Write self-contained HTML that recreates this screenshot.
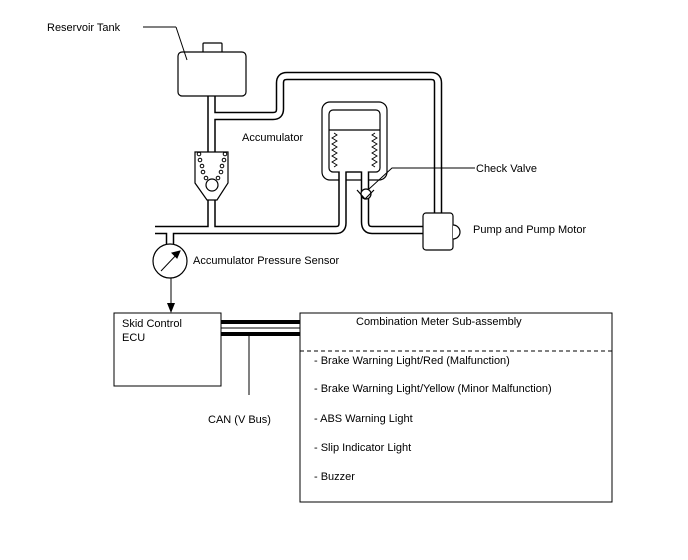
<!DOCTYPE html>
<html><head><style>
html,body{margin:0;padding:0;background:#fff;}
svg{display:block;}
text{font-family:"Liberation Sans",Arial,sans-serif;font-size:11px;fill:#000;}
</style></head><body>
<svg width="688" height="560" viewBox="0 0 688 560" xmlns="http://www.w3.org/2000/svg">
<!-- accumulator first -->
<g stroke="#000" stroke-width="1.2" fill="#fff">
<rect x="322" y="102" width="65" height="78" rx="8"/>
<rect x="329" y="110" width="51" height="62" rx="4"/>
<line x1="329" y1="130" x2="380" y2="130"/>
<path d="M334 133 l3 2 l-5 3 l5 3 l-5 3 l5 3 l-5 3 l5 3 l-5 3 l5 3 l-5 3 l5 3 l-3 2" fill="none" stroke-width="0.9"/>
<path d="M375 133 l-3 2 l5 3 l-5 3 l5 3 l-5 3 l5 3 l-5 3 l5 3 l-5 3 l5 3 l-5 3 l3 2" fill="none" stroke-width="0.9"/>
</g>
<g fill="none" stroke-linejoin="round">
<g stroke="#000" stroke-width="8.5">
<path d="M211.5 95 V230"/>
<path d="M211.5 116 H273 Q280 116 280 109 V83 Q280 76 287 76 H431 Q438 76 438 83 V214"/>
<path d="M155 230 H336 Q342.5 230 342.5 223 V172.5"/>
<path d="M365 172.5 V222 Q365 230 372 230 H424"/>
<path d="M170 230 V245"/>
</g>
<g stroke="#fff" stroke-width="5.5">
<path d="M211.5 95 V230"/>
<path d="M211.5 116 H273 Q280 116 280 109 V83 Q280 76 287 76 H431 Q438 76 438 83 V216"/>
<path d="M152 230 H336 Q342.5 230 342.5 223 V171"/>
<path d="M365 171 V222 Q365 230 372 230 H425"/>
<path d="M170 230 V246"/>
</g>
</g>
<g stroke="#000" stroke-width="1.2" fill="#fff">
<line x1="346.5" y1="172" x2="361" y2="172"/>
<!-- reservoir -->
<rect x="203" y="43" width="19" height="10" rx="1"/>
<rect x="178" y="52" width="68" height="44" rx="4"/>
<!-- pump valve -->
<path d="M195 152 H228 V183 L217 200 H207 L195 183 Z"/>
<circle cx="212" cy="185" r="6"/>
<g fill="none" stroke-width="1">
<circle cx="199" cy="154" r="1.8"/><circle cx="200" cy="160" r="1.8"/><circle cx="202" cy="166" r="1.8"/><circle cx="203" cy="172" r="1.8"/><circle cx="206" cy="178" r="1.8"/>
<circle cx="225" cy="154" r="1.8"/><circle cx="224" cy="160" r="1.8"/><circle cx="222" cy="166" r="1.8"/><circle cx="221" cy="172" r="1.8"/><circle cx="218" cy="178" r="1.8"/>
</g>
<!-- check valve -->
<circle cx="366" cy="194" r="5"/>
<path d="M357 190 L365 199 L374 190" fill="none"/>
<!-- pump -->
<rect x="423" y="213" width="30" height="37" rx="3"/>
<path d="M453 225 A7 7 0 0 1 453 239" fill="#fff"/>
<!-- gauge -->
<circle cx="170" cy="261" r="17"/>
</g>
<g stroke="#000" stroke-width="1" fill="none">
<line x1="161" y1="271" x2="179" y2="252"/>
<path d="M172 253 L180 251 L177 258 Z" fill="#000"/>
<line x1="143" y1="27" x2="176" y2="27"/>
<line x1="176" y1="27" x2="187" y2="60"/>
<polyline points="369,189 392,168 475,168"/>
<line x1="171" y1="278" x2="171" y2="304"/>
<rect x="114" y="313" width="107" height="73"/>
<rect x="300" y="313" width="312" height="189"/>
<line x1="300" y1="351" x2="612" y2="351" stroke-dasharray="4,3"/>
<line x1="221" y1="328" x2="300" y2="328"/>
<line x1="249" y1="334" x2="249" y2="395"/>
</g>
<path d="M167 303 L175 303 L171 313 Z" fill="#000"/>
<rect x="221" y="320" width="79" height="4" fill="#000"/>
<rect x="221" y="332" width="79" height="4" fill="#000"/>
<text x="47" y="31">Reservoir Tank</text>
<text x="242" y="141">Accumulator</text>
<text x="476" y="172">Check Valve</text>
<text x="473" y="233">Pump and Pump Motor</text>
<text x="193" y="264">Accumulator Pressure Sensor</text>
<text x="122" y="327">Skid Control</text>
<text x="122" y="341">ECU</text>
<text x="208" y="423">CAN (V Bus)</text>
<text x="356" y="325">Combination Meter Sub-assembly</text>
<text x="314" y="364">- Brake Warning Light/Red (Malfunction)</text>
<text x="314" y="392">- Brake Warning Light/Yellow (Minor Malfunction)</text>
<text x="314" y="422">- ABS Warning Light</text>
<text x="314" y="451">- Slip Indicator Light</text>
<text x="314" y="480">- Buzzer</text>
</svg>
</body></html>
